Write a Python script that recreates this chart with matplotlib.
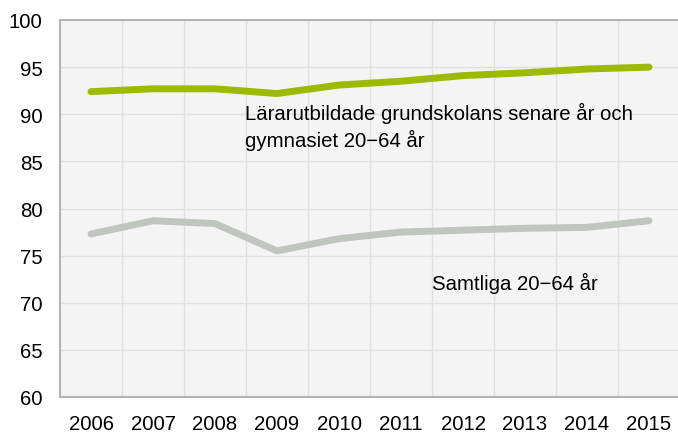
import matplotlib
matplotlib.use("Agg")
import matplotlib.pyplot as plt

plt.rcParams['font.family'] = ['Liberation Sans', 'DejaVu Sans']

years = ['2006', '2007', '2008', '2009', '2010', '2011', '2012', '2013', '2014', '2015']
teachers = [92.4, 92.7, 92.7, 92.2, 93.1, 93.5, 94.1, 94.4, 94.8, 95.0]
all_pop = [77.3, 78.7, 78.4, 75.5, 76.8, 77.5, 77.7, 77.9, 78.0, 78.7]
yticks = [60, 65, 70, 75, 80, 85, 90, 95, 100]

FS = 14.7
fig = plt.figure(figsize=(6.78, 4.35), dpi=100)
ax = fig.add_axes([60/678, 1-398/435, 620/678, 377/435])
ax.set_facecolor('#f4f4f4')
x = list(range(len(years)))
ax.plot(x, all_pop, color='#c0c5c0', lw=5, solid_capstyle='round', zorder=3)
ax.plot(x, teachers, color='#9cbb00', lw=5, solid_capstyle='round', zorder=3)

ax.set_xlim(-0.5, len(years) - 0.5)
ax.set_ylim(60, 100)
ax.set_yticks(yticks)
ax.set_xticks(x)
ax.set_xticklabels(years)
ax.grid(False)
for v in yticks[1:-1]:
    ax.axhline(v, color='#e0e0e0', lw=1, zorder=1)
for i in x[:-1]:
    ax.axvline(i + 0.5, color='#e0e0e0', lw=1, zorder=1)
ax.tick_params(axis='both', which='both', length=0, labelsize=FS, colors='#000000')
ax.tick_params(axis='y', pad=12.5)
ax.tick_params(axis='x', pad=12)
for s in ['top', 'left', 'bottom']:
    ax.spines[s].set_color('#b4b4b4')
    ax.spines[s].set_linewidth(1.5)
ax.spines['right'].set_visible(False)

ax.text(2.48, 90.2, 'Lärarutbildade grundskolans senare år och', fontsize=FS, va='center', ha='left')
ax.text(2.48, 87.3, 'gymnasiet 20−64 år', fontsize=FS, va='center', ha='left')
ax.text(5.5, 72.2, 'Samtliga 20−64 år', fontsize=FS, va='center', ha='left')

fig.savefig('out.png', dpi=100)
